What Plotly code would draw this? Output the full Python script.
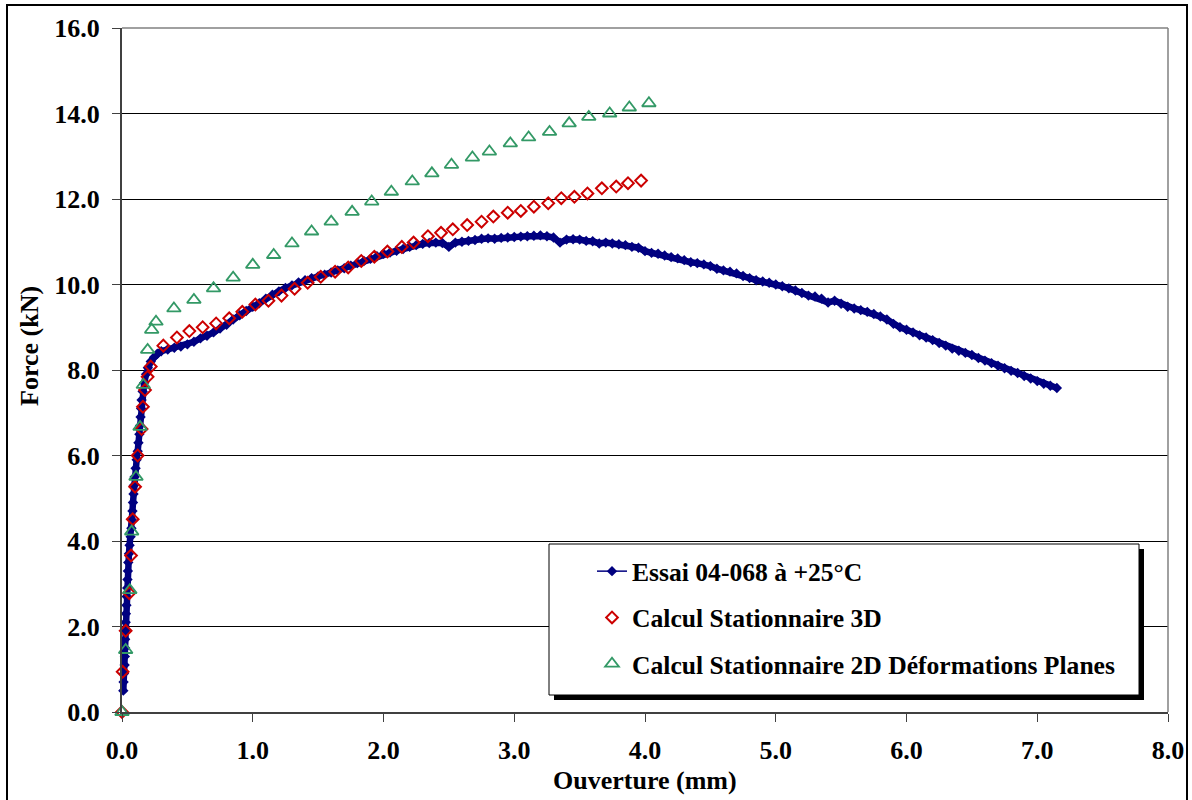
import plotly.graph_objects as go

# ---------------- data ----------------
essai_x = [0.010, 0.012, 0.015, 0.020, 0.022, 0.024, 0.024, 0.025, 0.028, 0.030,
           0.034, 0.036, 0.040, 0.042, 0.045, 0.048, 0.053, 0.058, 0.066, 0.072,
           0.075, 0.080, 0.084, 0.088, 0.090, 0.096, 0.104, 0.112, 0.120, 0.126,
           0.133, 0.138, 0.142, 0.146, 0.150, 0.158, 0.170, 0.184, 0.198, 0.220,
           0.245, 0.270,
           0.30, 0.35, 0.40, 0.45, 0.50, 0.55, 0.60, 0.65, 0.70, 0.75,
           0.80, 0.85, 0.90, 0.95, 1.00, 1.05, 1.10, 1.15, 1.20, 1.25,
           1.30, 1.35, 1.40, 1.45, 1.50, 1.55, 1.60, 1.65, 1.70, 1.75,
           1.80, 1.85, 1.90, 1.95, 2.00, 2.05, 2.10, 2.15, 2.20, 2.25,
           2.30, 2.35, 2.40, 2.45, 2.50, 2.55, 2.60, 2.65, 2.70, 2.75,
           2.80, 2.85, 2.90, 2.95, 3.00, 3.05, 3.10, 3.15, 3.20, 3.25,
           3.30, 3.35, 3.40, 3.45, 3.50, 3.55, 3.60, 3.65, 3.70, 3.75,
           3.80, 3.85, 3.90, 3.95, 4.00, 4.05, 4.10, 4.15, 4.20, 4.25,
           4.30, 4.35, 4.40, 4.45, 4.50, 4.55, 4.60, 4.65, 4.70, 4.75,
           4.80, 4.85, 4.90, 4.95, 5.00, 5.05, 5.10, 5.15, 5.20, 5.25,
           5.30, 5.35, 5.40, 5.45, 5.50, 5.55, 5.60, 5.65, 5.70, 5.75,
           5.80, 5.85, 5.90, 5.95, 6.00, 6.05, 6.10, 6.15, 6.20, 6.25,
           6.30, 6.35, 6.40, 6.45, 6.50, 6.55, 6.60, 6.65, 6.70, 6.75,
           6.80, 6.85, 6.90, 6.95, 7.00, 7.05, 7.10, 7.15]
essai_y = [0.50, 0.70, 0.90, 1.10, 1.30, 1.50, 1.70, 1.90, 2.10, 2.30,
           2.50, 2.70, 2.90, 3.10, 3.30, 3.50, 3.70, 3.90, 4.10, 4.30,
           4.50, 4.70, 4.90, 5.10, 5.30, 5.50, 5.70, 5.90, 6.10, 6.30,
           6.50, 6.70, 6.90, 7.10, 7.30, 7.50, 7.70, 7.90, 8.05, 8.20,
           8.30, 8.38,
           8.44, 8.48, 8.52, 8.55, 8.60, 8.66, 8.74, 8.80, 8.88, 8.97,
           9.06, 9.18, 9.28, 9.38, 9.48, 9.56, 9.67, 9.76, 9.84, 9.92,
           9.98, 10.05, 10.10, 10.15, 10.19, 10.23, 10.28, 10.33, 10.38, 10.44,
           10.50, 10.55, 10.60, 10.66, 10.72, 10.75, 10.79, 10.83, 10.88, 10.92,
           10.95, 10.97, 10.98, 10.97, 10.88, 10.98, 11.00, 11.02, 11.04, 11.07,
           11.08, 11.07, 11.09, 11.10, 11.11, 11.12, 11.13, 11.14, 11.15, 11.13,
           11.10, 10.98, 11.05, 11.06, 11.05, 11.02, 11.01, 10.96, 10.98, 10.96,
           10.94, 10.92, 10.88, 10.86, 10.78, 10.74, 10.72, 10.68, 10.64, 10.61,
           10.57, 10.52, 10.50, 10.47, 10.43, 10.37, 10.33, 10.30, 10.26, 10.20,
           10.15, 10.10, 10.07, 10.04, 10.00, 9.96, 9.91, 9.86, 9.80, 9.74,
           9.72, 9.67, 9.58, 9.62, 9.55, 9.48, 9.44, 9.40, 9.36, 9.31,
           9.25, 9.18, 9.08, 9.00, 8.94, 8.88, 8.81, 8.76, 8.70, 8.63,
           8.57, 8.50, 8.45, 8.40, 8.35, 8.28, 8.22, 8.16, 8.10, 8.04,
           7.98, 7.93, 7.86, 7.80, 7.74, 7.68, 7.63, 7.58]

calc3d_x = [0.0, 0.005, 0.028, 0.056, 0.069, 0.082, 0.10, 0.12, 0.15, 0.16,
            0.176, 0.196, 0.22, 0.316, 0.42, 0.515, 0.617, 0.72, 0.82, 0.92,
            1.02, 1.12, 1.22, 1.32, 1.42, 1.52, 1.63, 1.73, 1.83, 1.93,
            2.03, 2.14, 2.23, 2.34, 2.44, 2.53, 2.64, 2.75, 2.84, 2.95,
            3.05, 3.15, 3.26, 3.36, 3.46, 3.56, 3.67, 3.78, 3.87, 3.97]
calc3d_y = [0.0, 0.94, 1.90, 2.78, 3.66, 4.51, 5.27, 6.00, 6.62, 7.14,
            7.53, 7.84, 8.08, 8.57, 8.76, 8.91, 9.00, 9.09, 9.21, 9.36,
            9.53, 9.62, 9.74, 9.90, 10.04, 10.18, 10.30, 10.40, 10.55, 10.65,
            10.77, 10.88, 10.98, 11.13, 11.21, 11.29, 11.39, 11.47, 11.59, 11.68,
            11.72, 11.82, 11.90, 12.02, 12.05, 12.13, 12.25, 12.29, 12.37, 12.43]

calc2d_x = [0.0, 0.028, 0.06, 0.074, 0.107, 0.138, 0.163, 0.196, 0.227, 0.26,
            0.397, 0.55, 0.70, 0.85, 1.00, 1.16, 1.30, 1.45, 1.60, 1.76,
            1.91, 2.06, 2.22, 2.37, 2.52, 2.68, 2.81, 2.97, 3.11, 3.27,
            3.42, 3.57, 3.73, 3.88, 4.03]
calc2d_y = [0.0, 1.45, 2.85, 4.22, 5.50, 6.67, 7.65, 8.47, 8.94, 9.13,
            9.44, 9.64, 9.91, 10.16, 10.46, 10.69, 10.96, 11.24, 11.47, 11.70,
            11.94, 12.17, 12.41, 12.60, 12.80, 12.97, 13.11, 13.30, 13.44, 13.57,
            13.77, 13.92, 14.00, 14.14, 14.24]

series_names = ["Essai 04-068 à +25°C",
                "Calcul Stationnaire 3D",
                "Calcul Stationnaire 2D Déformations Planes"]
x_ticks = [0, 1, 2, 3, 4, 5, 6, 7, 8]
y_ticks = [0, 2, 4, 6, 8, 10, 12, 14, 16]
x_title = "Ouverture (mm)"
y_title = "Force (kN)"

# ---------------- figure ----------------
FONT = "Liberation Serif, Times New Roman, serif"
FS = 26
W, H = 1192, 800
ML, MR, MT, MB = 122, 24, 28, 88
PW, PH = W - ML - MR, H - MT - MB
NAVY, RED, GREEN = "#000080", "#CC0000", "#339966"


def px_x(p):
    return (p - ML) / PW


def px_y(p):
    return (H - MB - p) / PH


fig = go.Figure()
# thick band of the measured curve (dense measurement points)
fig.add_trace(go.Scatter(
    x=essai_x, y=essai_y, name=series_names[0], legendgroup="a",
    showlegend=False, hoverinfo="skip",
    mode="lines", cliponaxis=False,
    line=dict(color=NAVY, width=6.5)))
fig.add_trace(go.Scatter(
    x=essai_x, y=essai_y, name=series_names[0], legendgroup="a",
    mode="lines+markers", cliponaxis=False,
    line=dict(color=NAVY, width=1.5),
    marker=dict(symbol="diamond", size=8, color=NAVY, line=dict(width=0))))
fig.add_trace(go.Scatter(
    x=calc3d_x, y=calc3d_y, name=series_names[1], legendgroup="b",
    mode="markers", cliponaxis=False,
    marker=dict(symbol="diamond-open", size=9, color=RED,
                line=dict(width=2, color=RED))))
fig.add_trace(go.Scatter(
    x=calc2d_x, y=calc2d_y, name=series_names[2], legendgroup="c",
    mode="markers", cliponaxis=False,
    marker=dict(symbol="triangle-up-open", size=12, color=GREEN,
                line=dict(width=1.8, color=GREEN))))

shapes = [
    # outer frame of the picture
    dict(type="rect", xref="paper", yref="paper",
         x0=px_x(7), x1=px_x(1187), y0=px_y(860), y1=px_y(5),
         line=dict(color="black", width=2), fillcolor="rgba(0,0,0,0)", layer="above"),
    # plot area top/right border (gray)
    dict(type="line", xref="paper", yref="paper", x0=0, x1=1, y0=1, y1=1,
         line=dict(color="#808080", width=1.5), layer="above"),
    dict(type="line", xref="paper", yref="paper", x0=1, x1=1, y0=0, y1=1,
         line=dict(color="#808080", width=1.5), layer="above"),
    # legend shadow and box
    dict(type="rect", xref="paper", yref="paper",
         x0=px_x(554), x1=px_x(1144), y0=px_y(700), y1=px_y(549),
         line=dict(width=0), fillcolor="black", layer="above"),
    dict(type="rect", xref="paper", yref="paper",
         x0=px_x(549), x1=px_x(1139), y0=px_y(695), y1=px_y(544),
         line=dict(color="black", width=1), fillcolor="white", layer="above"),
]

annotations = [
    dict(text=x_title, xref="paper", yref="paper", x=px_x(645), y=px_y(780),
         xanchor="center", yanchor="middle", showarrow=False,
         font=dict(family=FONT, size=FS, color="black", weight="bold")),
    dict(text=y_title, xref="paper", yref="paper", x=px_x(29), y=px_y(346),
         xanchor="center", yanchor="middle", showarrow=False, textangle=-90,
         font=dict(family=FONT, size=FS, color="black", weight="bold")),
]

fig.update_layout(
    width=W, height=H,
    margin=dict(l=ML, r=MR, t=MT, b=MB, pad=0, autoexpand=False),
    paper_bgcolor="white", plot_bgcolor="white",
    font=dict(family=FONT, size=FS, color="black"),
    shapes=shapes, annotations=annotations,
    showlegend=True,
    legend=dict(x=px_x(592), y=px_y(548), xanchor="left", yanchor="top",
                bgcolor="rgba(0,0,0,0)", borderwidth=0,
                traceorder="grouped", tracegroupgap=10,
                font=dict(family=FONT, size=25.6, color="black", weight="bold")),
    xaxis=dict(range=[0, 8], tickvals=x_ticks, tickformat=".1f",
               showgrid=False, zeroline=False, automargin=False,
               showline=True, linecolor="#404040", linewidth=2,
               ticks="outside", ticklen=8, tickwidth=1, tickcolor="#404040",
               ticklabelstandoff=6,
               tickfont=dict(family=FONT, size=FS, color="black", weight="bold")),
    yaxis=dict(range=[0, 16], tickvals=y_ticks, tickformat=".1f",
               showgrid=True, gridcolor="black", gridwidth=1, zeroline=False,
               automargin=False,
               showline=True, linecolor="#404040", linewidth=2,
               ticks="outside", ticklen=8, tickwidth=1, tickcolor="#404040",
               ticklabelstandoff=7,
               tickfont=dict(family=FONT, size=FS, color="black", weight="bold")),
)

fig.write_html("out.html", config={"displayModeBar": False},
               post_script="document.body.style.margin='0px';")
